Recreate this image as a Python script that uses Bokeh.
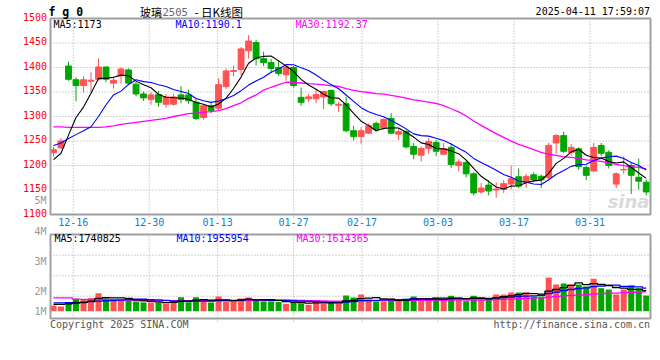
from bokeh.plotting import figure
from bokeh.models import Range1d, Label, ColumnDataSource
from bokeh.embed import file_html
from bokeh.resources import INLINE

# ---------------- data ----------------
dates = ["12-11", "12-12", "12-13", "12-16", "12-17", "12-18", "12-19", "12-20", "12-23", "12-24",
         "12-25", "12-26", "12-27", "12-30", "12-31", "01-02", "01-03", "01-06", "01-07", "01-08",
         "01-09", "01-10", "01-13", "01-14", "01-15", "01-16", "01-17", "01-20", "01-21", "01-22",
         "01-23", "01-24", "01-27", "02-05", "02-06", "02-07", "02-10", "02-11", "02-12", "02-13",
         "02-14", "02-17", "02-18", "02-19", "02-20", "02-21", "02-24", "02-25", "02-26", "02-27",
         "02-28", "03-03", "03-04", "03-05", "03-06", "03-07", "03-10", "03-11", "03-12", "03-13",
         "03-14", "03-17", "03-18", "03-19", "03-20", "03-21", "03-24", "03-25", "03-26", "03-27",
         "03-28", "03-31", "04-01", "04-02", "04-03", "04-07", "04-08", "04-09", "04-10", "04-11"]

opens = [1226, 1236, 1403, 1375, 1363, 1372, 1376, 1401, 1368, 1383,
         1395, 1366, 1346, 1335, 1345, 1325, 1325, 1344, 1344, 1329,
         1298, 1322, 1317, 1361, 1392, 1396, 1434, 1451, 1418, 1410,
         1400, 1385, 1400, 1339, 1336, 1336, 1340, 1353, 1323, 1326,
         1271, 1259, 1266, 1286, 1276, 1296, 1264, 1269, 1239, 1221,
         1235, 1247, 1223, 1237, 1200, 1206, 1183, 1146, 1160, 1150,
         1151, 1162, 1177, 1166, 1181, 1178, 1175, 1246, 1261, 1227,
         1234, 1196, 1189, 1241, 1227, 1162, 1191, 1200, 1176, 1166]
highs = [1238, 1256, 1412, 1380, 1382, 1390, 1418, 1402, 1381, 1400,
         1398, 1370, 1351, 1350, 1352, 1346, 1346, 1362, 1355, 1336,
         1326, 1327, 1378, 1398, 1404, 1442, 1466, 1456, 1432, 1418,
         1415, 1402, 1403, 1359, 1346, 1355, 1352, 1355, 1330, 1340,
         1281, 1278, 1286, 1290, 1296, 1307, 1276, 1273, 1246, 1239,
         1256, 1252, 1246, 1245, 1213, 1210, 1186, 1164, 1170, 1166,
         1170, 1200, 1194, 1183, 1186, 1181, 1246, 1264, 1269, 1244,
         1237, 1200, 1246, 1246, 1231, 1186, 1219, 1205, 1214, 1171]
lows = [1218, 1233, 1373, 1331, 1349, 1350, 1373, 1370, 1357, 1367,
        1366, 1341, 1332, 1324, 1320, 1318, 1322, 1327, 1326, 1293,
        1293, 1307, 1312, 1356, 1382, 1384, 1418, 1404, 1403, 1390,
        1383, 1373, 1359, 1322, 1329, 1327, 1315, 1321, 1309, 1268,
        1251, 1244, 1264, 1269, 1273, 1265, 1252, 1235, 1213, 1208,
        1224, 1219, 1223, 1195, 1188, 1176, 1139, 1142, 1139, 1134,
        1144, 1151, 1154, 1154, 1166, 1154, 1171, 1224, 1225, 1220,
        1191, 1170, 1186, 1219, 1194, 1154, 1183, 1142, 1151, 1139]
closes = [1232, 1250, 1376, 1363, 1375, 1374, 1401, 1376, 1374, 1397,
          1368, 1346, 1338, 1344, 1329, 1340, 1340, 1335, 1332, 1296,
          1322, 1312, 1365, 1393, 1394, 1438, 1454, 1418, 1410, 1398,
          1388, 1401, 1363, 1329, 1340, 1345, 1351, 1326, 1325, 1271,
          1259, 1271, 1281, 1273, 1294, 1266, 1269, 1238, 1223, 1235,
          1249, 1229, 1234, 1202, 1207, 1183, 1144, 1154, 1148, 1152,
          1163, 1173, 1158, 1178, 1171, 1171, 1241, 1261, 1229, 1237,
          1198, 1180, 1237, 1225, 1200, 1183, 1192, 1180, 1168, 1146]
# volume in millions of lots
volumes = [0.481, 0.397, 0.759, 1.046, 0.962, 1.097, 1.519, 1.097, 0.962, 0.962,
           0.903, 0.819, 0.734, 0.734, 0.734, 0.624, 0.928, 1.181, 0.759, 1.181,
           0.844, 0.734, 1.241, 0.793, 0.793, 1.072, 1.156, 0.987, 0.819, 0.819,
           0.793, 0.624, 0.793, 0.650, 0.540, 0.903, 0.624, 0.819, 0.624, 1.325,
           1.156, 1.409, 0.987, 0.819, 0.819, 1.046, 0.819, 1.046, 1.241, 1.046,
           1.046, 1.131, 1.013, 1.300, 1.013, 0.844, 1.300, 1.013, 1.046, 1.409,
           1.409, 1.578, 1.578, 1.578, 1.241, 1.241, 2.844, 2.253, 2.338, 2.253,
           2.253, 2.084, 2.734, 1.941, 1.831, 1.409, 1.831, 2.169, 1.941, 1.325]

# moving-average values before a full window exists
ma5_head = [1212, 1225, 1262, 1298]
ma10_head = [1241, 1246, 1255, 1263, 1271, 1279, 1300, 1324, 1344]
ma30_head = [1279, 1279, 1278, 1278, 1278, 1278, 1278, 1279, 1281, 1284,
             1286, 1288, 1290, 1292, 1294, 1296, 1300, 1303, 1306, 1307,
             1309, 1310, 1312, 1316, 1322, 1328, 1337, 1344, 1354]
vma5_head = [0.57, 0.57, 0.61, 0.69]
vma10_head = [0.71, 0.71, 0.72, 0.74, 0.76, 0.80, 0.85, 0.88, 0.90]
vma30_head = [1.13, 1.13, 1.13, 1.02, 1.00, 1.00, 1.00, 1.00, 0.98, 0.95,
              0.93, 0.92, 0.92, 0.91, 0.90, 0.90, 0.90, 0.90, 0.90, 0.90,
              0.90, 0.90, 0.90, 0.90, 0.90, 0.90, 0.90, 0.90, 0.90]

tick_labels = ["12-16", "12-30", "01-13", "01-27", "02-17", "03-03", "03-17", "03-31"]
price_ticks = [1100, 1150, 1200, 1250, 1300, 1350, 1400, 1450, 1500]
vol_labels = ["5M", "4M", "3M", "2M", "1M"]
vol_grid = [1, 2, 3]

title_code = "f g 0"
title_name = "玻璃"
title_contract = "2505"
title_rest = "-  日K线图"
timestamp = "2025-04-11 17:59:07"
ma_texts = ["MA5:1173", "MA10:1190.1", "MA30:1192.37"]
vma_texts = ["MA5:1740825", "MA10:1955954", "MA30:1614365"]
copyright_text = "Copyright 2025 SINA.COM"
url_text = "http://finance.sina.com.cn"

# ---------------- derived ----------------
n = len(closes)
idx = list(range(n))


def rolling(vals, k, head):
    out = list(head)
    for i in range(k - 1, len(vals)):
        out.append(sum(vals[i - k + 1:i + 1]) / k)
    return out


ma5 = rolling(closes, 5, ma5_head)
ma10 = rolling(closes, 10, ma10_head)
ma30 = rolling(closes, 30, ma30_head)
vma5 = rolling(volumes, 5, vma5_head)
vma10 = rolling(volumes, 10, vma10_head)
vma30 = rolling(volumes, 30, vma30_head)

UP = "#ff5353"
DOWN = "#00a600"
GRID = "#a8a8a8"
BORDER = "#a0a0a0"
MONO = "DejaVu Sans Mono"
CJK = "Noto Sans CJK SC"

colors = [UP if c >= o else DOWN for o, c in zip(opens, closes)]
src = ColumnDataSource(dict(
    x=idx, o=opens, h=highs, l=lows, c=closes,
    top=[max(o, c) for o, c in zip(opens, closes)],
    bot=[min(o, c) for o, c in zip(opens, closes)],
    col=colors, vol=volumes,
    ma5=ma5, ma10=ma10, ma30=ma30, vma5=vma5, vma10=vma10, vma30=vma30,
))

# ---------------- geometry (pixel layout of the picture) ----------------
W, H = 652, 340
X0, DX = 53.0, 7.503        # candle centres
GX0, GDX = 49.9, 7.6        # date grid
FL, FR = 50.0, 650.0        # panel left / right
P_TOP, P_BOT = 18.0, 214.0  # price panel
V_TOP, V_BOT = 234.0, 318.0  # volume panel
V_ZERO, V_PXM = 310.7, 11.85  # volume baseline pixel, pixels per million
G1, G_PX = 295.7, 20.47     # volume grid: first line and spacing
PMIN, PMAX = price_ticks[0], price_ticks[-1]


def fx(px):
    return (px - X0) / DX


def gx(px):
    return (px - GX0) / GDX


def py(ypx):
    return PMAX - (ypx - P_TOP) * (PMAX - PMIN) / (P_BOT - P_TOP)


def vy(ypx):
    return (V_ZERO - ypx) / V_PXM


def vg(ypx):
    return 1 + (G1 - ypx) / G_PX


tick_idx = [dates.index(t) for t in tick_labels]

p = figure(width=W, height=H, output_backend="svg", toolbar_location=None,
           x_range=Range1d(fx(0), fx(W)), y_range=Range1d(py(H), py(0)),
           min_border=0, outline_line_color=None,
           background_fill_color="white", border_fill_color="white")
p.extra_x_ranges = {"g": Range1d(gx(0), gx(W))}
p.extra_y_ranges = {"v": Range1d(vy(H), vy(0)), "vg": Range1d(vg(H), vg(0))}
p.below = []
p.left = []
p.center = []

dot = dict(line_color=GRID, line_dash="1 2", line_width=1)
nt = len(tick_idx)
# price panel grid
p.segment(x0=tick_idx, x1=tick_idx, y0=[py(P_BOT + 3)] * nt, y1=[PMAX] * nt,
          x_range_name="g", **dot)
inner = price_ticks[1:-1]
p.segment(x0=[fx(FL)] * len(inner), x1=[fx(FR)] * len(inner), y0=inner, y1=inner, **dot)
# volume panel grid
p.segment(x0=tick_idx, x1=tick_idx, y0=[vg(V_BOT + 3)] * nt, y1=[vg(V_TOP)] * nt,
          x_range_name="g", y_range_name="vg", **dot)
p.segment(x0=[fx(FL)] * 3, x1=[fx(FR)] * 3, y0=vol_grid, y1=vol_grid,
          y_range_name="vg", **dot)

# watermark (behind the data)
p.add_layout(Label(x=fx(649), y=py(201), text="sina", text_color="#dadada",
                   text_font="DejaVu Sans", text_font_size="18px", text_align="right",
                   text_baseline="middle", text_font_style="bold italic", level="underlay"))

# candles
p.segment(x0="x", y0="l", x1="x", y1="h", color="col", line_width=1, source=src)
p.vbar(x="x", top="top", bottom="bot", width=0.78, fill_color="col", line_color="col",
       line_width=1, source=src)
p.line("x", "ma30", color="#ff00ff", line_width=1.3, source=src)
p.line("x", "ma10", color="#0000ff", line_width=1.1, source=src)
p.line("x", "ma5", color="#000000", line_width=1.1, source=src)

# volume
p.vbar(x="x", top="vol", bottom=0, width=0.8, fill_color="col", line_color=None,
       y_range_name="v", source=src)
p.step("x", "vma30", mode="center", color="#ff00ff", line_width=1.3, y_range_name="v", source=src)
p.step("x", "vma10", mode="center", color="#0000ff", line_width=1.3, y_range_name="v", source=src)
p.step("x", "vma5", mode="center", color="#000000", line_width=1.3, y_range_name="v", source=src)

# panel borders
p.quad(left=fx(FL), right=fx(FR), bottom=PMIN, top=PMAX, fill_color=None,
       line_color=BORDER, line_width=2)
p.quad(left=fx(FL), right=fx(FR), bottom=vy(V_BOT), top=vy(V_TOP), fill_color=None,
       line_color=BORDER, line_width=2, y_range_name="v")


def add_label(text, x, y, color, size="10px", font=MONO, align="left", style="normal",
              xr="default", yr="default", yoff=0):
    p.add_layout(Label(x=x, y=y, text=text, text_color=color, text_font=font,
                       text_font_size=size, text_align=align, text_baseline="middle",
                       text_font_style=style, x_range_name=xr, y_range_name=yr,
                       y_offset=yoff))


# price tick labels
for t in price_ticks:
    add_label(str(t), fx(46.5), t, "#ff0000", align="right", yoff=2)
# date labels
for t, lab in zip(tick_idx, tick_labels):
    add_label(lab, t, py(221.2), "#1280c8", align="center", xr="g")
# volume axis labels
vol_label_px = [200, 231, 261, 291, 311]
for txt, ypx in zip(vol_labels, vol_label_px):
    add_label(txt, fx(46), vy(ypx), "#999999", align="right", yr="v")

# titles
add_label(title_code, fx(48), py(11), "#000000", size="11.5px", style="bold")
add_label(title_name, fx(139.5), py(11), "#000000", size="11px", font=CJK)
add_label(title_contract, fx(162), py(11), "#666666", size="10.5px")
add_label(title_rest, fx(194), py(11), "#000000", size="11.5px", font=CJK)
add_label(timestamp, fx(649.5), py(11.2), "#000000", align="right")
# MA legends
ma_cols = ["#000000", "#0000ff", "#ff00ff"]
ma_x = [53, 175, 295]
for txt, c, xx in zip(ma_texts, ma_cols, ma_x):
    add_label(txt, fx(xx), py(23.5), c)
for txt, c, xx in zip(vma_texts, ma_cols, ma_x):
    add_label(txt, fx(xx + 1), vy(238), c, yr="v")
# footer
add_label(copyright_text, fx(49.5), vy(323.5), "#555555", yr="v")
add_label(url_text, fx(649.5), vy(323.5), "#555555", align="right", yr="v")

open("out.html", "w").write(file_html(p, INLINE))
